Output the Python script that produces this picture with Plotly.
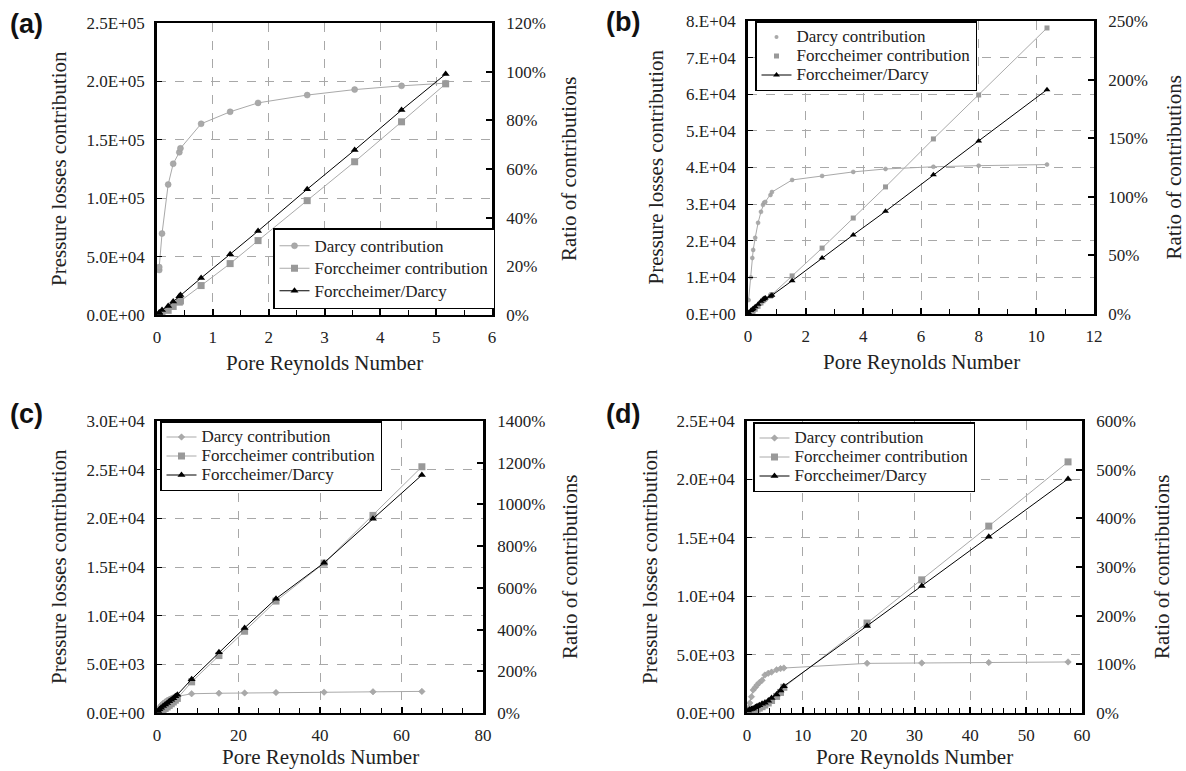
import plotly.graph_objects as go

# ---------------- data ----------------
A_re = [0.04, 0.04, 0.09, 0.2, 0.29, 0.4, 0.42, 0.79, 1.31, 1.81, 2.69, 3.54, 4.38, 5.17]
A_darcy = [38500, 41000, 69700, 111700, 129500, 139300, 142700, 163700, 174000, 181600, 188300, 193000, 196200, 198500]
A_forch = [300, 400, 1500, 4000, 7300, 11000, 12000, 25200, 44000, 63700, 97900, 131200, 165400, 197900]
A_ratio = [0.8, 1.0, 2.1, 3.7, 5.5, 7.7, 8.2, 15.2, 25.0, 34.5, 51.7, 67.8, 84.2, 99.0]

B_re = [0.02, 0.1, 0.15, 0.18, 0.25, 0.35, 0.45, 0.52, 0.56, 0.6, 0.78, 0.83, 1.53, 2.57, 3.65, 4.77, 6.43, 8.0, 10.37]
B_darcy = [3800, 10000, 15300, 17500, 20800, 24900, 27900, 29800, 30400, 30600, 32500, 33300, 36600, 37700, 38800, 39600, 40200, 40500, 40800]
B_forch = [50, 300, 600, 800, 1300, 2100, 3000, 3600, 4000, 4200, 4900, 5300, 10400, 18000, 26200, 34700, 47800, 59800, 78100]
B_ratio = [1.3, 3.0, 3.9, 4.6, 6.2, 8.4, 10.8, 12.1, 13.2, 13.7, 15.1, 15.9, 28.4, 47.7, 67.5, 87.6, 118.9, 147.7, 191.4]

C_re = [0.3, 0.6, 1.0, 1.5, 2.0, 2.5, 3.0, 3.5, 4.0, 4.5, 5.0, 8.5, 15.2, 21.5, 29.2, 41.0, 53.0, 65.0]
C_darcy = [300, 550, 800, 1000, 1150, 1300, 1400, 1500, 1600, 1650, 1700, 1980, 2030, 2060, 2100, 2140, 2180, 2220]
C_forch = [30, 100, 200, 330, 470, 620, 780, 950, 1130, 1320, 1500, 3200, 5900, 8400, 11500, 15400, 20300, 25300]
C_ratio = [10, 18, 25, 33, 41, 48, 56, 63, 71, 80, 88, 162, 291, 408, 548, 720, 931, 1141]

D_re = [0.2, 0.5, 0.8, 1.1, 1.5, 1.8, 2.2, 2.7, 3.2, 3.8, 4.4, 5.3, 6.0, 6.6, 21.5, 31.3, 43.3, 57.5]
D_darcy = [400, 860, 1400, 1970, 2200, 2400, 2600, 2800, 3250, 3400, 3500, 3700, 3800, 3850, 4250, 4280, 4320, 4370]
D_forch = [20, 60, 110, 180, 260, 330, 420, 540, 680, 860, 1070, 1420, 1760, 2200, 7700, 11400, 16000, 21500]
D_ratio = [5, 7, 8, 9, 12, 14, 16, 19, 21, 25, 31, 38, 46, 55, 179, 261, 362, 481]

A_ytext = ["0.0E+00", "5.0E+04", "1.0E+05", "1.5E+05", "2.0E+05", "2.5E+05"]
A_yvals = [0, 50000, 100000, 150000, 200000, 250000]
A_rtext = ["0%", "20%", "40%", "60%", "80%", "100%", "120%"]
A_rvals = [0, 20, 40, 60, 80, 100, 120]

B_ytext = ["0.E+00", "1.E+04", "2.E+04", "3.E+04", "4.E+04", "5.E+04", "6.E+04", "7.E+04", "8.E+04"]
B_yvals = [0, 10000, 20000, 30000, 40000, 50000, 60000, 70000, 80000]
B_rtext = ["0%", "50%", "100%", "150%", "200%", "250%"]
B_rvals = [0, 50, 100, 150, 200, 250]

C_ytext = ["0.0E+00", "5.0E+03", "1.0E+04", "1.5E+04", "2.0E+04", "2.5E+04", "3.0E+04"]
C_yvals = [0, 5000, 10000, 15000, 20000, 25000, 30000]
C_rtext = ["0%", "200%", "400%", "600%", "800%", "1000%", "1200%", "1400%"]
C_rvals = [0, 200, 400, 600, 800, 1000, 1200, 1400]

D_ytext = ["0.0E+00", "5.0E+03", "1.0E+04", "1.5E+04", "2.0E+04", "2.5E+04"]
D_yvals = [0, 5000, 10000, 15000, 20000, 25000]
D_rtext = ["0%", "100%", "200%", "300%", "400%", "500%", "600%"]
D_rvals = [0, 100, 200, 300, 400, 500, 600]

names = ["Darcy contribution", "Forccheimer contribution", "Forccheimer/Darcy"]
x_title = "Pore Reynolds Number"
yl_title = "Pressure losses contribution"
yr_title = "Ratio of contributions"
panel_labels = ["(a)", "(b)", "(c)", "(d)"]

# ---------------- layout geometry (pixels) ----------------
W, H = 1186, 771
def px(x):
    return x / W
def py(y):
    return 1 - y / H

panels = [
    dict(re=A_re, d=A_darcy, f=A_forch, r=A_ratio, yv=A_yvals, yt=A_ytext, rv=A_rvals, rt=A_rtext,
         xr=[0, 6], xd=1, xminor=0.5, yr=[0, 250000], rr=[0, 120],
         box=(157, 492, 23, 315), leg=(273, 228), legfs=15, ltitle=59, rtitle=569, btitle=363, lab=(26, 24),
         dsym="circle", dsize=6, ssize=7, tsize=7, dlegline=True),
    dict(re=B_re, d=B_darcy, f=B_forch, r=B_ratio, yv=B_yvals, yt=B_ytext, rv=B_rvals, rt=B_rtext,
         xr=[0, 12], xd=2, xminor=1, yr=[0, 80000], rr=[0, 250],
         box=(748, 1094, 21, 314), leg=(755, 21), legfs=12, ltitle=655, rtitle=1173, btitle=362, lab=(623, 22),
         dsym="circle", dsize=4, ssize=5, tsize=6, dlegline=False),
    dict(re=C_re, d=C_darcy, f=C_forch, r=C_ratio, yv=C_yvals, yt=C_ytext, rv=C_rvals, rt=C_rtext,
         xr=[0, 80], xd=20, xminor=5, yr=[0, 30000], rr=[0, 1400],
         box=(157, 483, 421, 713), leg=(160, 421), legfs=12, ltitle=59, rtitle=570, btitle=757, lab=(26, 414),
         dsym="diamond", dsize=5, ssize=7, tsize=7, dlegline=True),
    dict(re=D_re, d=D_darcy, f=D_forch, r=D_ratio, yv=D_yvals, yt=D_ytext, rv=D_rvals, rt=D_rtext,
         xr=[0, 60], xd=10, xminor=2, yr=[0, 25000], rr=[0, 600],
         box=(747, 1082, 421, 713), leg=(753, 422), legfs=12, ltitle=650, rtitle=1162, btitle=757, lab=(623, 414),
         dsym="diamond", dsize=5, ssize=7, tsize=7, dlegline=True),
]

SERIF = "Liberation Serif, Times New Roman, serif"
DARCY_C = "#a9a9a9"
FORCH_C = "#999999"
FORCH_LINE = "#aaaaaa"
GRID_C = "#a8a8a8"

def lname(s):
    return '<span style="font-size:17px">' + s + '</span>'

fig = go.Figure()
layout = dict(
    width=W, height=H, margin=dict(l=0, r=0, t=0, b=0, pad=0, autoexpand=False),
    paper_bgcolor="white", plot_bgcolor="rgba(0,0,0,0)",
    font=dict(family=SERIF, size=17, color="#222"),
    showlegend=True,
)
annotations = []

for i, p in enumerate(panels):
    k = i + 1
    xa = "x" if k == 1 else f"x{k}"
    ya = "y" if k == 1 else f"y{k}"
    ya2 = f"y{k + 4}"
    leg = "legend" if k == 1 else f"legend{k}"
    x0, x1, y0, y1 = p["box"]

    fig.add_trace(go.Scatter(
        x=p["re"], y=p["d"], xaxis=xa, yaxis=ya, name=lname(names[0]), legend=leg,
        mode="lines+markers", showlegend=p["dlegline"],
        line=dict(color=DARCY_C, width=1),
        marker=dict(symbol=p["dsym"], size=p["dsize"], color=DARCY_C, line=dict(color="#9a9a9a", width=0.5))))
    fig.add_trace(go.Scatter(
        x=p["re"], y=p["f"], xaxis=xa, yaxis=ya, name=lname(names[1]), legend=leg,
        mode="lines+markers", showlegend=p["dlegline"],
        line=dict(color=FORCH_LINE, width=1),
        marker=dict(symbol="square", size=p["ssize"], color=FORCH_C)))
    if not p["dlegline"]:
        fig.add_trace(go.Scatter(
            x=[None], y=[None], xaxis=xa, yaxis=ya, name=lname(names[0]), legend=leg, mode="markers",
            marker=dict(symbol="circle", size=4, color=DARCY_C)))
        fig.add_trace(go.Scatter(
            x=[None], y=[None], xaxis=xa, yaxis=ya, name=lname(names[1]), legend=leg, mode="markers",
            marker=dict(symbol="square", size=5, color=FORCH_C)))
    fig.add_trace(go.Scatter(
        x=p["re"], y=p["r"], xaxis=xa, yaxis=ya2, name=lname(names[2]), legend=leg,
        mode="lines+markers",
        line=dict(color="black", width=1),
        marker=dict(symbol="triangle-up", size=p["tsize"], color="black")))

    xkey = "xaxis" if k == 1 else f"xaxis{k}"
    ykey = "yaxis" if k == 1 else f"yaxis{k}"
    y2key = f"yaxis{k + 4}"
    dom_x = [px(x0), px(x1)]
    dom_y = [py(y1), py(y0)]

    layout[xkey] = dict(
        domain=dom_x, anchor=ya, range=p["xr"], dtick=p["xd"], tick0=0, automargin=False,
        showline=True, linecolor="black", linewidth=2, mirror=True,
        ticks="inside", ticklen=6, tickwidth=1.5, tickcolor="black",
        showgrid=True, gridcolor=GRID_C, griddash="dash", gridwidth=1, zeroline=False,
        minor=dict(dtick=p["xminor"], tick0=0, ticks="inside", ticklen=5, tickwidth=1.2,
                   tickcolor="black", showgrid=False),
        ticklabelstandoff=6, tickfont=dict(family=SERIF, size=17, color="#222"),
    )
    layout[ykey] = dict(
        domain=dom_y, anchor=xa, range=p["yr"], automargin=False,
        tickmode="array", tickvals=p["yv"], ticktext=p["yt"],
        showline=True, linecolor="black", linewidth=2.5, mirror=False,
        ticks="inside", ticklen=5, tickwidth=1.2, tickcolor="black",
        showgrid=True, gridcolor=GRID_C, griddash="dash", gridwidth=1, zeroline=False,
        ticklabelstandoff=6, tickfont=dict(family=SERIF, size=17, color="#222"),
    )
    layout[y2key] = dict(
        overlaying=ya, anchor=xa, side="right", range=p["rr"], automargin=False,
        tickmode="array", tickvals=p["rv"], ticktext=p["rt"],
        showline=True, linecolor="black", linewidth=2.5,
        ticks="inside", ticklen=6, tickwidth=1.5, tickcolor="black",
        showgrid=False, zeroline=False,
        ticklabelstandoff=8, tickfont=dict(family=SERIF, size=17, color="#222"),
    )
    layout[leg] = dict(
        x=px(p["leg"][0]), y=py(p["leg"][1]), xanchor="left", yanchor="top",
        bgcolor="white", bordercolor="black", borderwidth=1.5,
        font=dict(family=SERIF, size=p["legfs"], color="#222"),
        itemwidth=30, tracegroupgap=0,
    )

    cy = (y0 + y1) / 2
    cx = (x0 + x1) / 2
    annotations.append(dict(text=yl_title, x=px(p["ltitle"]), y=py(cy), xref="paper", yref="paper",
                            textangle=-90, showarrow=False, xanchor="center", yanchor="middle",
                            font=dict(family=SERIF, size=21, color="#222")))
    annotations.append(dict(text=yr_title, x=px(p["rtitle"]), y=py(cy), xref="paper", yref="paper",
                            textangle=-90, showarrow=False, xanchor="center", yanchor="middle",
                            font=dict(family=SERIF, size=21, color="#222")))
    annotations.append(dict(text=x_title, x=px(cx), y=py(p["btitle"]), xref="paper", yref="paper",
                            showarrow=False, xanchor="center", yanchor="middle",
                            font=dict(family=SERIF, size=21, color="#222")))
    annotations.append(dict(text="<b>" + panel_labels[i] + "</b>", x=px(p["lab"][0]), y=py(p["lab"][1]),
                            xref="paper", yref="paper", showarrow=False, xanchor="center", yanchor="middle",
                            font=dict(family="Liberation Sans, Arial, sans-serif", size=27, color="#111")))

layout["annotations"] = annotations
fig.update_layout(**layout)
fig.write_html("out.html")
